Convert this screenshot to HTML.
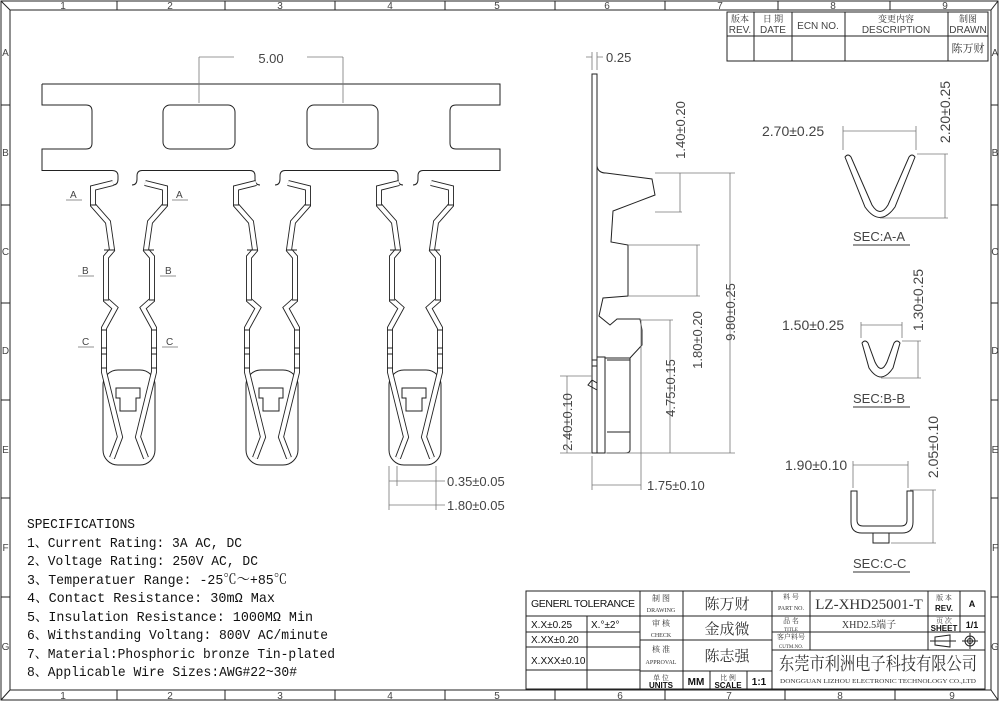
<!DOCTYPE html>
<html><head><meta charset="utf-8"><style>
html,body{margin:0;padding:0;background:#fff}
svg{display:block}
.l{fill:none;stroke:#222;stroke-width:1}
.d{fill:none;stroke:#777;stroke-width:.8}
.t{font-family:"Liberation Sans",sans-serif;fill:#444}
.s{font-family:"Liberation Mono","Noto Serif CJK SC",monospace;fill:#111;font-size:14px}
.c{font-family:"Liberation Serif","Noto Serif CJK SC",serif;fill:#333}
.b{font-family:"Liberation Sans",sans-serif;fill:#111;font-weight:bold}
</style></head><body>
<svg width="1000" height="702" viewBox="0 0 1000 702" xmlns="http://www.w3.org/2000/svg" font-size="13">
<!-- frame -->
<rect x="1" y="1" width="997" height="699" class="l" stroke-width="1.5"/>
<rect x="10" y="10" width="981" height="680" class="l" stroke-width="1.5"/>
<line x1="1" y1="1" x2="10" y2="10" class="l"/><line x1="998" y1="1" x2="991" y2="10" class="l"/>
<line x1="1" y1="700" x2="10" y2="690" class="l"/><line x1="998" y1="700" x2="991" y2="690" class="l"/>
<g class="t" font-size="10" fill="#222" text-anchor="middle">
<text x="63" y="9">1</text><text x="170" y="9">2</text><text x="280" y="9">3</text><text x="390" y="9">4</text><text x="497" y="9">5</text><text x="607" y="9">6</text><text x="720" y="9">7</text><text x="833" y="9">8</text><text x="945" y="9">9</text>
<text x="63" y="699">1</text><text x="170" y="699">2</text><text x="280" y="699">3</text><text x="390" y="699">4</text><text x="497" y="699">5</text><text x="620" y="699">6</text><text x="729" y="699">7</text><text x="840" y="699">8</text><text x="952" y="699">9</text>
<text x="5.5" y="56">A</text><text x="5.5" y="156">B</text><text x="5.5" y="255">C</text><text x="5.5" y="354">D</text><text x="5.5" y="453">E</text><text x="5.5" y="551">F</text><text x="5.5" y="650">G</text>
<text x="995" y="56">A</text><text x="995" y="156">B</text><text x="995" y="255">C</text><text x="995" y="354">D</text><text x="995" y="453">E</text><text x="995" y="551">F</text><text x="995" y="650">G</text>
</g>
<g class="l">
<path d="M117,1V10M225,1V10M335,1V10M445,1V10M555,1V10M665,1V10M778,1V10M890,1V10"/>
<path d="M117,690V700M225,690V700M335,690V700M445,690V700M555,690V700M665,690V700M785,690V700M895,690V700"/>
<path d="M1,105H10M1,205H10M1,303H10M1,400H10M1,498H10M1,597H10M991,105H998M991,205H998M991,303H998M991,400H998M991,498H998M991,597H998"/>
</g>

<!-- revision block -->
<g class="l">
<rect x="727" y="12" width="261" height="49"/>
<path d="M727,36H988M754,12V61M792,12V61M845,12V61M948,12V61"/>
</g>
<g text-anchor="middle">
<text x="740" y="22" class="c" font-size="9">版本</text><text x="740" y="33" class="t" font-size="10" fill="#111">REV.</text>
<text x="773" y="22" class="c" font-size="9">日 期</text><text x="773" y="33" class="t" font-size="10" fill="#111">DATE</text>
<text x="818" y="29" class="t" font-size="10" fill="#111">ECN  NO.</text>
<text x="896" y="22" class="c" font-size="9">变更内容</text><text x="896" y="33" class="t" font-size="10" fill="#111">DESCRIPTION</text>
<text x="968" y="22" class="c" font-size="9">制图</text><text x="968" y="33" class="t" font-size="10" fill="#111">DRAWN</text>
<text x="968" y="52" class="c" font-size="11">陈万财</text>
</g>

<!-- comb strip -->
<path class="l" d="M42,84H500V105H456Q450,105 450,111V143Q450,149 456,149H500V170.5H423Q418,170.5 418,176V179Q418,185 413,185"/>
<path class="l" d="M403,185Q398,185 398,179V176Q398,170.5 393,170.5H285Q280,170.5 280,176V179Q280,185 275,185"/>
<path class="l" d="M260,185Q255,185 255,179V176Q255,170.5 250,170.5H142Q137,170.5 137,176V179Q137,185 132,185"/>
<path class="l" d="M113,185Q118,185 118,179V176Q118,170.5 112,170.5H42V149H86Q92,149 92,143V111Q92,105 86,105H42V84"/>
<rect x="163" y="105" width="72" height="44" rx="7" class="l"/>
<rect x="307" y="105" width="71" height="44" rx="7" class="l"/>
<!-- 5.00 dim -->
<path class="d" d="M199,103V57M343,103V57M199,57H234M307,57H343"/>
<text x="271" y="63" class="t" text-anchor="middle">5.00</text>

<!-- terminals -->
<defs>
<g id="term">
<rect x="103" y="370" width="52" height="95" rx="15" class="l"/>
<path d="M116,388H140V398H136V411H120V398H116Z" class="l"/>
<g id="arm">
<path d="M113,183L93,188L93,205L108,222L112,250L106,257L106,300L115,308L104,328L104,372L120,437L112,458" fill="none" stroke="#222" stroke-width="6" stroke-linejoin="miter"/>
<path d="M113,183L93,188L93,205L108,222L112,250L106,257L106,300L115,308L104,328L104,372L120,437L112,458" fill="none" stroke="#fff" stroke-width="4.2" stroke-linejoin="miter"/>
<path d="M90,205H96M104,250H115M103,300H109M101,330H107M101,348H107M101,354H107M101,368H107" class="l" stroke-width=".8"/>
</g>
<use href="#arm" transform="translate(258,0) scale(-1,1)"/>
</g>
</defs>
<use href="#term"/>
<use href="#term" transform="translate(143,0)"/>
<use href="#term" transform="translate(286,0)"/>
<!-- section markers -->
<g class="t" font-size="10" fill="#222">
<text x="70" y="198">A</text><path class="d" d="M66,200H82"/>
<text x="176" y="198">A</text><path class="d" d="M172,200H188"/>
<text x="82" y="274">B</text><path class="d" d="M78,276H94"/>
<text x="165" y="274">B</text><path class="d" d="M160,276H176"/>
<text x="82" y="345">C</text><path class="d" d="M78,347H94"/>
<text x="166" y="345">C</text><path class="d" d="M162,347H178"/>
</g>
<!-- dims under terminal 3 -->
<path class="d" d="M389,466V510M397,466V486M436,466V510M389,481H397M397,481H445M389,505H445"/>
<text x="447" y="486" class="t">0.35±0.05</text>
<text x="447" y="510" class="t">1.80±0.05</text>

<!-- side view -->
<g class="l">
<path d="M592,74H597V453H592Z"/>
<path d="M597,166Q598,173 606,173L652,179L655,195L613,211L611,242L628,245L628,296L603,298L599,316L610,325L617,319L640,319L642,330L642,345L630,358"/>
<path d="M597,357H605V453H597M605,358H630V450Q630,453 625,453H607M607,360H630M607,432H630M605,360V453"/>
<path d="M592,360H597M592,366H597M597,390L588,385L592,380L597,383"/>
</g>
<path class="d" d="M592,70V52M597,70V52M586,57H592M597,57H603"/>
<text x="606" y="62" class="t">0.25</text>
<path class="d" d="M655,173H735M655,212H682M628,245H700M628,296H700M640,320H673M605,453H735M592,453H560M592,376H560M592,456V490M641,320V490M680,173V212M697,245V296M670,320V453M730,173V453M567,376V453M592,485H641"/>
<text transform="translate(685,130) rotate(-90)" class="t" text-anchor="middle">1.40±0.20</text>
<text transform="translate(702,340) rotate(-90)" class="t" text-anchor="middle">1.80±0.20</text>
<text transform="translate(675,388) rotate(-90)" class="t" text-anchor="middle">4.75±0.15</text>
<text transform="translate(735,312) rotate(-90)" class="t" text-anchor="middle">9.80±0.25</text>
<text transform="translate(572,422) rotate(-90)" class="t" text-anchor="middle">2.40±0.10</text>
<text x="647" y="490" class="t">1.75±0.10</text>

<!-- sections -->
<g class="l">
<path d="M845,157Q848,153 851,157L872,205Q880,218 888,205L909,157Q912,153 915,157L895,207Q880,228 865,207Z"/>
<path d="M862,343Q865,339 868,343L875,362Q881,375 887,362L894,343Q897,339 900,343L893,368Q881,386 869,368Z"/>
<path d="M851,491H857V520Q857,526 863,526H901Q907,526 907,520V491H913V522Q913,533 902,533H862Q851,533 851,522Z"/>
<path d="M873,533V543H889V533"/>
</g>
<path class="d" d="M843,150V126M916,150V126M843,131H916M917,154H948M880,218H948M945,154V218"/>
<text x="762" y="136" class="t" font-size="14">2.70±0.25</text>
<text transform="translate(950,112) rotate(-90)" class="t" font-size="14" text-anchor="middle">2.20±0.25</text>
<path class="d" d="M861,338V322M902,338V322M861,325H902M902,341H921M881,378H921M918,341V378"/>
<text x="782" y="330" class="t" font-size="14">1.50±0.25</text>
<text transform="translate(923,300) rotate(-90)" class="t" font-size="14" text-anchor="middle">1.30±0.25</text>
<path class="d" d="M853,488V461M908,488V461M853,465H908M910,490H936M891,543H936M933,490V543"/>
<text x="785" y="470" class="t" font-size="14">1.90±0.10</text>
<text transform="translate(938,447) rotate(-90)" class="t" font-size="14" text-anchor="middle">2.05±0.10</text>
<text x="853" y="241" class="t" font-size="13" fill="#111">SEC:A-A</text><path d="M853,245H910" stroke="#333"/>
<text x="853" y="403" class="t" font-size="13" fill="#111">SEC:B-B</text><path d="M853,407H910" stroke="#333"/>
<text x="853" y="568" class="t" font-size="13" fill="#111">SEC:C-C</text><path d="M853,572H910" stroke="#333"/>

<!-- specifications -->
<g class="s">
<text x="27" y="528" textLength="108" lengthAdjust="spacingAndGlyphs">SPECIFICATIONS</text>
<text x="27" y="547" textLength="215" lengthAdjust="spacingAndGlyphs">1、Current Rating: 3A AC, DC</text>
<text x="27" y="565" textLength="231" lengthAdjust="spacingAndGlyphs">2、Voltage Rating: 250V AC, DC</text>
<text x="27" y="584" textLength="260" lengthAdjust="spacingAndGlyphs">3、Temperatuer Range: -25℃～+85℃</text>
<text x="27" y="602" textLength="248" lengthAdjust="spacingAndGlyphs">4、Contact Resistance: 30mΩ Max</text>
<text x="27" y="621" textLength="286" lengthAdjust="spacingAndGlyphs">5、Insulation Resistance: 1000MΩ Min</text>
<text x="27" y="639" textLength="301" lengthAdjust="spacingAndGlyphs">6、Withstanding Voltang: 800V AC/minute</text>
<text x="27" y="658" textLength="308" lengthAdjust="spacingAndGlyphs">7、Material:Phosphoric bronze Tin-plated</text>
<text x="27" y="676" textLength="270" lengthAdjust="spacingAndGlyphs">8、Applicable Wire Sizes:AWG#22~30#</text>
</g>

<!-- title block -->
<g class="l" stroke-width="1.2">
<rect x="526" y="591" width="459" height="98"/>
<path d="M526,616H772M526,632H640M526,647H640M526,670H640M640,640H772M640,671H772M587,616V689M640,591V689M683,591V689M710,671V689M747,671V689M772,591V689M772,616H985M772,632H985M772,650H985M810,591V650M928,591V650M960,591V632"/>
</g>
<text x="531" y="607" class="b" font-size="10.5" style="font-weight:normal" textLength="104">GENERL  TOLERANCE</text>
<g class="b" font-size="10" style="font-weight:normal">
<text x="531" y="628">X.X±0.25</text><text x="591" y="628">X.°±2°</text>
<text x="531" y="643">X.XX±0.20</text>
<text x="531" y="664">X.XXX±0.10</text>
</g>
<g text-anchor="middle">
<text x="661" y="601" class="c" font-size="8">制  图</text><text x="661" y="612" class="c" font-size="6">DRAWING</text>
<text x="661" y="626" class="c" font-size="8">审  核</text><text x="661" y="637" class="c" font-size="6">CHECK</text>
<text x="661" y="652" class="c" font-size="8">核  准</text><text x="661" y="664" class="c" font-size="6">APPROVAL</text>
<text x="661" y="680" class="c" font-size="7">单 位</text><text x="661" y="688" class="b" font-size="8">UNITS</text>
<text x="727" y="609" class="c" font-size="15">陈万财</text>
<text x="727" y="634" class="c" font-size="15">金成微</text>
<text x="727" y="661" class="c" font-size="15">陈志强</text>
<text x="696" y="685" class="b" font-size="10">MM</text>
<text x="728" y="680" class="c" font-size="7">比 例</text><text x="728" y="688" class="b" font-size="8">SCALE</text>
<text x="759" y="685" class="b" font-size="10">1:1</text>
<text x="791" y="599" class="c" font-size="7">料 号</text><text x="791" y="610" class="c" font-size="6">PART NO.</text>
<text x="791" y="623" class="c" font-size="7">品 名</text><text x="791" y="631" class="c" font-size="5">TITLE</text>
<text x="791" y="639" class="c" font-size="7">客户料号</text><text x="791" y="648" class="c" font-size="5">CUTM.NO.</text>
<text x="869" y="609" class="c" font-size="15">LZ-XHD25001-T</text>
<text x="869" y="628" class="c" font-size="10">XHD2.5端子</text>
<text x="944" y="600" class="c" font-size="7">版 本</text><text x="944" y="611" class="b" font-size="8">REV.</text>
<text x="944" y="623" class="c" font-size="7">页 次</text><text x="944" y="631" class="b" font-size="8">SHEET</text>
<text x="972" y="607" class="b" font-size="9">A</text>
<text x="972" y="628" class="b" font-size="9">1/1</text>
<text x="878" y="670" class="c" font-size="18" textLength="198" lengthAdjust="spacingAndGlyphs">东莞市利洲电子科技有限公司</text>
<text x="878" y="683" class="c" font-size="6" textLength="196" lengthAdjust="spacingAndGlyphs">DONGGUAN LIZHOU ELECTRONIC TECHNOLOGY CO.,LTD</text>
</g>
<g class="l">
<path d="M935,637L950,635V647L935,645ZM930,641H956"/>
<circle cx="970" cy="641" r="5"/><circle cx="970" cy="641" r="2.5"/><path d="M962,641H978M970,633V649"/>
</g>
</svg>
</body></html>
